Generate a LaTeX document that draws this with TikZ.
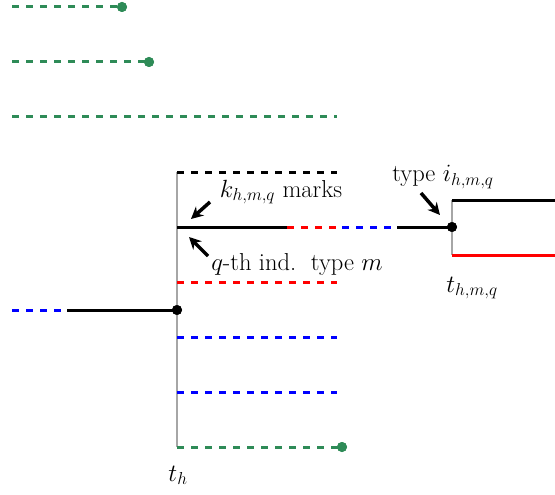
\documentclass[tikz,border=0pt]{standalone}
\usetikzlibrary{arrows.meta}
\definecolor{dgreen}{RGB}{46,139,87}
\begin{document}
\begin{tikzpicture}[x=1pt,y=-1pt,
  dsh/.style={line width=3pt,dash pattern=on 7pt off 7pt},
  sol/.style={line width=3pt},
  vline/.style={line width=2pt,draw=gray!70},
  dot/.style={circle,fill=#1,inner sep=0pt,minimum size=10pt},
  lbl/.style={font=\fontsize{24.5}{29}\selectfont,inner sep=0pt,anchor=base},
  arr/.style={line width=3.5pt,-{Stealth[length=12pt,width=12pt]}}]
\useasboundingbox (0,0) rectangle (555,495);
% coordinates
\coordinate (g1a) at (12,7);
\node[dot=dgreen] (g1b) at (122,7) {};
\coordinate (g2a) at (12,62);
\node[dot=dgreen] (g2b) at (149,62) {};
\coordinate (g3a) at (12,117);
\coordinate (g3b) at (337,117);
\coordinate (vt) at (177,172);
\coordinate (vb) at (177,447);
\coordinate (k1) at (337,172);
\coordinate (r0) at (177,227);
\coordinate (r1) at (287,227);
\coordinate (r2) at (342,227);
\coordinate (r3) at (397,227);
\node[dot=black] (r4) at (452,227) {};
\coordinate (rd1) at (177,282);
\coordinate (rd2) at (337,282);
\coordinate (l0) at (12,310);
\coordinate (l1) at (67,310);
\node[dot=black] (l2) at (177,310) {};
\coordinate (b1a) at (177,337);
\coordinate (b1b) at (337,337);
\coordinate (b2a) at (177,392);
\coordinate (b2b) at (337,392);
\coordinate (g4a) at (177,447);
\node[dot=dgreen] (g4b) at (342,447) {};
\coordinate (v2t) at (452,200);
\coordinate (v2b) at (452,255);
\coordinate (u1) at (555,200);
\coordinate (u2) at (555,255);
% vertical lines
\draw[vline] (vt) -- (vb);
\draw[vline] (v2t) -- (v2b);
% green
\draw[dsh,dgreen] (g1a) -- (g1b.center);
\draw[dsh,dgreen] (g2a) -- (g2b.center);
\draw[dsh,dgreen] (g3a) -- (g3b);
\draw[dsh,dgreen] (g4a) -- (g4b.center);
% black dashed
\draw[dsh,black] (vt) -- (k1);
% middle row
\draw[sol] (r0) -- (r1);
\draw[dsh,red] (r1) -- (r2);
\draw[dsh,blue] (r2) -- (r3);
\draw[sol] (r3) -- (r4.center);
% red dashed
\draw[dsh,red] (rd1) -- (rd2);
% left
\draw[dsh,blue] (l0) -- (l1);
\draw[sol] (l1) -- (l2.center);
% blue dashed
\draw[dsh,blue] (b1a) -- (b1b);
\draw[dsh,blue] (b2a) -- (b2b);
% right
\draw[sol] (v2t) -- (u1);
\draw[sol,red] (v2b) -- (u2);
\node[dot=black] at (r4) {};
\node[dot=black] at (l2) {};
\node[dot=dgreen] at (g1b) {};
\node[dot=dgreen] at (g2b) {};
\node[dot=dgreen] at (g4b) {};
% labels
\node[lbl] (th) at (178,481) {$t_h$};
\node[lbl] (thmq) at (472,292) {$t_{h,m,q}$};
\node[lbl] (ti) at (443,182) {type $i_{h,m,q}$};
\node[lbl] (km) at (281,197) {$k_{h,m,q}$ marks};
\node[lbl] (qt) at (297,270) {$q$-th ind.\hspace{0.6em}type $m$};
% arrows
\coordinate (a1s) at (210,202);
\coordinate (a1e) at (191,219);
\coordinate (a2s) at (208,256);
\coordinate (a2e) at (189,237);
\coordinate (a3s) at (421,193);
\coordinate (a3e) at (440,215);
\draw[arr] (a1s) -- (a1e);
\draw[arr] (a2s) -- (a2e);
\draw[arr] (a3s) -- (a3e);
\end{tikzpicture}
\end{document}
